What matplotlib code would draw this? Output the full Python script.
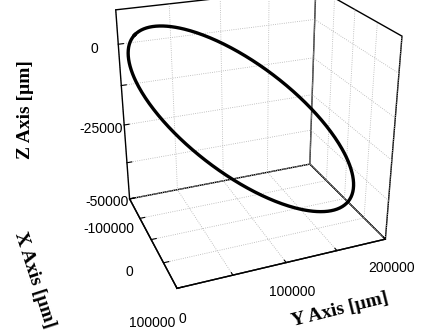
import numpy as np
import matplotlib
matplotlib.use('Agg')
import matplotlib.pyplot as plt

# axis ranges / ticks
x_lim = [-100000, 100000]
y_lim = [0, 200000]
z_lim = [-50000, 10000]
x_ticks = [-100000, -50000, 0, 50000, 100000]
x_labels = ['-100000', '', '0', '', '100000']
y_ticks = [0, 50000, 100000, 150000, 200000]
y_labels = ['0', '', '100000', '', '200000']
z_ticks = [-50000, -37500, -25000, -12500, 0]
z_labels = ['-50000', '', '-25000', '', '0']

# the trajectory: a tilted ellipse (centre and two half-axis vectors, in um)
centre = [0, 88000, -17000]
half_major = [-90000, -74000, 20000]
half_minor = [0, 37000, 10000]

t = np.linspace(0, 2 * np.pi, 400)
px = centre[0] + half_major[0] * np.cos(t) + half_minor[0] * np.sin(t)
py = centre[1] + half_major[1] * np.cos(t) + half_minor[1] * np.sin(t)
pz = centre[2] + half_major[2] * np.cos(t) + half_minor[2] * np.sin(t)

plt.rcParams['font.family'] = ['Liberation Sans', 'DejaVu Sans']

fig = plt.figure(figsize=(4.46, 3.34), dpi=100)
ax = fig.add_axes([0.055, 0.11, 1.0, 1.0], projection='3d', proj_type='persp', focal_length=0.45)
ax.view_init(elev=25, azim=-22)
ax.set_box_aspect((0.8, 1, 0.98), zoom=1.03)

ax.plot(px, py, pz, color='black', lw=2.4)

ax.set_xlim(x_lim)
ax.set_ylim(y_lim)
ax.set_zlim(z_lim)
ax.set_xticks(x_ticks)
ax.set_xticklabels(x_labels)
ax.set_yticks(y_ticks)
ax.set_yticklabels(y_labels)
ax.set_zticks(z_ticks)
ax.set_zticklabels(z_labels)

for axis in (ax.xaxis, ax.yaxis, ax.zaxis):
    axis.set_pane_color((1, 1, 1, 0))
    axis.pane.set_alpha(None)
    axis.pane.set_facecolor((1, 1, 1, 0))
    axis.pane.set_edgecolor('black')
    axis.pane.set_linewidth(1.0)
    axis.line.set_color('black')
    axis.line.set_linewidth(1.0)
    axis._axinfo['grid'].update(color='#b0b0b0', linestyle=':', linewidth=0.6)
    axis._axinfo['tick']['inward_factor'] = 0.0
    axis._axinfo['tick']['outward_factor'] = 0.3
    axis.set_tick_params(labelsize=10, pad=2)
ax.xaxis.set_tick_params(pad=6)
ax.zaxis.set_tick_params(pad=4)

ax.zaxis.set_ticks_position('lower')

# axis titles placed by hand, like the original
lab = dict(family='Liberation Serif', fontweight='bold', fontsize=14,
           ha='center', va='center')
fig.text(25 / 446, 1 - 110 / 334, 'Z Axis [\u00b5m]', rotation=90, **lab)
fig.text(35 / 446, 1 - 280 / 334, 'X Axis [\u00b5m]', rotation=-72, **lab)
fig.text(340 / 446, 1 - 310 / 334, 'Y Axis [\u00b5m]', rotation=14, **lab)

fig.savefig('out.png', dpi=100)
